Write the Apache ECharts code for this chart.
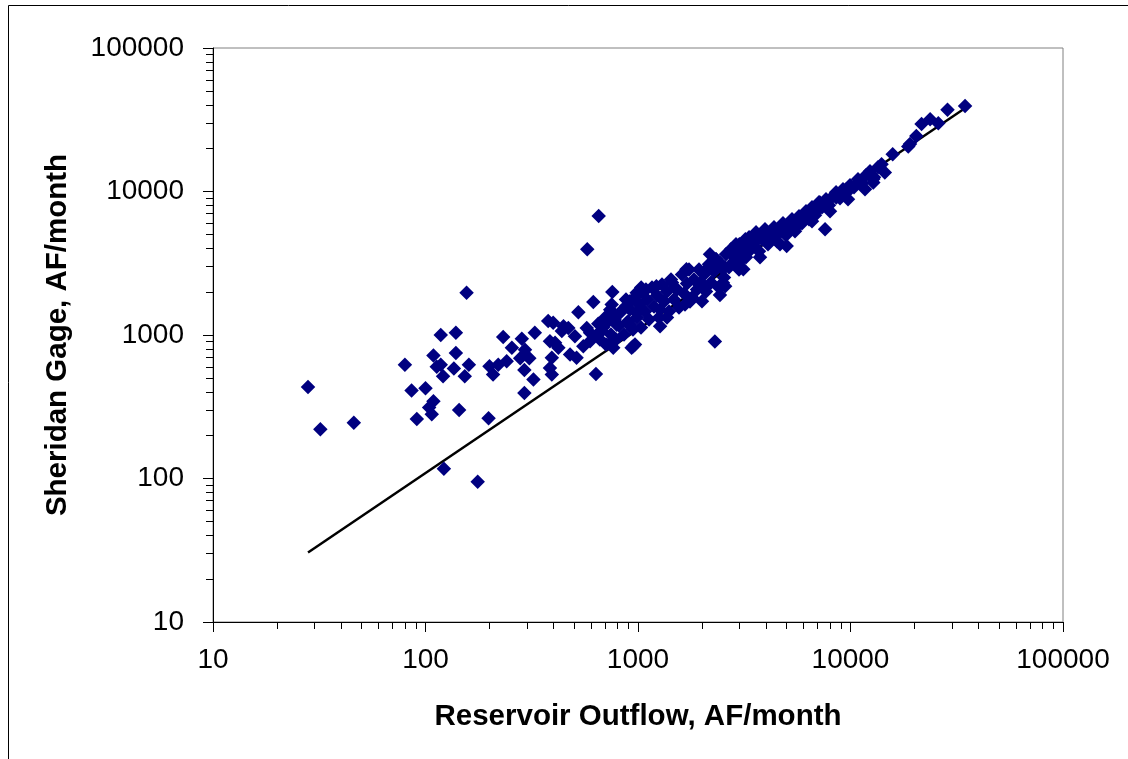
<!DOCTYPE html>
<html><head><meta charset="utf-8">
<script src="https://cdn.jsdelivr.net/npm/echarts@6/dist/echarts.min.js"></script>
<style>html,body{margin:0;padding:0;background:#fff}#c{width:1128px;height:759px}</style>
</head><body><div id="c"></div>
<script>
// Reservoir outflow (x) and Sheridan gage (y), AF/month
const outflowLow = [28,32,46,80,86,91,100,109,113,118,118,139,139,136,160,121,153,109,104,107,144,122,176,156,200,198,232,220,208,241,279,292,292,255,284,294,308,322,327,378,399,385,393,385,393,407,422,438,446,470,479,505,514,524,553,574,577,595,595,616,634,640,650,653,675,699,740,752,752,757,765,775,794,823,880,885,917,933,950,968,986,986];
const gageLow    = [435,220,245,620,410,260,425,720,600,620,1000,1035,750,585,620,515,515,345,313,280,300,117,95,1970,605,263,970,620,530,655,690,570,395,815,940,790,690,490,1035,1250,1215,905,693,590,530,883,815,1065,1150,1120,730,980,693,1440,836,1120,3960,905,1036,1700,535,1005,1200,6740,1065,1320,1500,905,1630,1990,815,1280,1180,1430,1590,1215,1720,815,836,860,1970,1430];
const outflowBand = [662,684,707,723,746,771,788,814,832,859,878,898,917,947,968,989,1011,1033,1056,1079,1103,1127,1164,1189,1229,1255,1297,1326,1369,1399,1445,1477,1526,1559,1611,1646,1701,1738,1796,1834,1895,1937,1979,2045,2089,2158,2205,2278,2328,2406,2458,2539,2595,2681,2739,2830,2892,2988,3053,3154,3223,3331,3403,3516,3593,3711,3833,3960,4091,4226,4365,4510,4659,4813,4972,5136,5305,5540,5723,5913,6174,6379,6589,6807,7109,7343,7668,7922,8273,8551,8926,9220,9627,9945,10386,10847,11327,11830,12355,12900,13475,
                     1090,1269,1493,1757,2067,2567,3020,2182,917,5481,6589,8008,9732,11700,4659,3751,1369,1664];
const gageBand    = [930,1128,858,1243,1008,1325,930,1165,1459,1008,1769,1243,1507,1092,1827,1325,1633,1128,1980,1459,1769,1283,2145,1581,1887,1325,2251,1713,2012,1459,2325,1769,2077,1556,2644,1948,2288,2866,1827,2440,2077,2866,2325,2644,2012,3106,2325,2774,3366,2145,2960,2519,3648,2960,3953,3259,4283,2866,3827,4424,3475,4795,3953,4352,5194,3827,4642,5451,4283,4950,5629,4496,5278,6004,4950,5629,6402,5629,6718,6004,7279,6402,7765,6827,8414,7765,8832,8017,9265,9880,8974,10368,9880,11055,10708,12176,11419,12985,13851,12572,14770,
                     2077,1507,2145,1713,2145,2960,3259,3648,1184,5278,6199,7279,8832,10368,4283,3475,1325,1633];
const outflowHigh = [1035,1220,1270,1430,1690,2000,2100,2300,2330,2430,2430,2510,2570,2810,3000,3130,3130,3200,3560,4010,4740,5010,5190,5990,6800,7180,7590,8570,9560,11100,12800,12800,14000,14500,15800,18700,19060,20400,21600,23700,25900,28600,34600];
const gageHigh    = [2140,2190,1150,2440,2870,1720,2870,900,3370,1900,3190,2310,2190,3550,4290,2870,4170,4650,5040,4650,5310,4170,5750,6580,7130,8370,5450,9090,10380,11540,11540,12200,15500,13560,18200,20600,21400,24400,29500,31900,29900,37100,39500];
// fitted line end points
const lineOutflow = [28, 34000];
const lineGage = [30.5, 37400];
// axis tick values
const majorTicks = [10, 100, 1000, 10000, 100000];
const minorTicks = [20,30,40,50,60,70,80,90,200,300,400,500,600,700,800,900,2000,3000,4000,5000,6000,7000,8000,9000,20000,30000,40000,50000,60000,70000,80000,90000];

const pairs = (xs, ys) => xs.map((v, i) => [v, ys[i]]);
const points = pairs(outflowLow, gageLow).concat(pairs(outflowBand, gageBand), pairs(outflowHigh, gageHigh));
const lineData = pairs(lineOutflow, lineGage);
const minorLog = minorTicks.map(v => Math.log10(v));
const FONT = '"Liberation Sans", Arial, sans-serif';

const chart = echarts.init(document.getElementById('c'), null, {renderer: 'canvas'});
const mainAxis = (isX) => ({
  type: 'log', logBase: 10, min: majorTicks[0], max: majorTicks[majorTicks.length - 1],
  gridIndex: 0, position: isX ? 'bottom' : 'left', z: 5,
  axisLine: {show: true, lineStyle: {color: '#000', width: 1}},
  axisTick: {show: true, length: 10, inside: false, lineStyle: {color: '#000', width: 1}},
  axisLabel: {show: true, margin: isX ? 24 : 29, color: '#000', fontFamily: FONT, fontSize: 28,
              formatter: v => String(v)},
  splitLine: {show: false},
  minorTick: {show: false},
  name: isX ? 'Reservoir Outflow, AF/month' : 'Sheridan Gage, AF/month',
  nameLocation: 'middle', nameGap: isX ? 80 : 140,
  nameTextStyle: {color: '#000', fontFamily: FONT, fontSize: 29.5, fontWeight: 'bold'}
});
const minorAxis = (isX) => ({
  type: 'value', min: 1, max: 5, gridIndex: 0, position: isX ? 'bottom' : 'left', z: 4,
  axisLine: {show: false},
  axisTick: {show: true, length: 7, inside: false, customValues: minorLog, lineStyle: {color: '#000', width: 1}},
  axisLabel: {show: false},
  splitLine: {show: false}
});

chart.setOption({
  animation: false,
  backgroundColor: '#fff',
  grid: {left: 213, right: 65, top: 48, bottom: 137, show: true, borderColor: '#808080', borderWidth: 1, backgroundColor: 'transparent'},
  xAxis: [mainAxis(true), minorAxis(true)],
  yAxis: [mainAxis(false), minorAxis(false)],
  graphic: [{type: 'rect', z: -10, shape: {x: 8.5, y: 5.5, width: 1300, height: 900}, style: {fill: 'none', stroke: '#000', lineWidth: 1}}],
  series: [
    {type: 'line', xAxisIndex: 0, yAxisIndex: 0, data: lineData, symbol: 'none', z: 1,
     lineStyle: {color: '#000', width: 2.5}},
    {type: 'scatter', xAxisIndex: 0, yAxisIndex: 0, data: points, symbol: 'diamond', symbolSize: 14.5, z: 2,
     itemStyle: {color: '#000080', opacity: 1}}
  ]
});
</script></body></html>
